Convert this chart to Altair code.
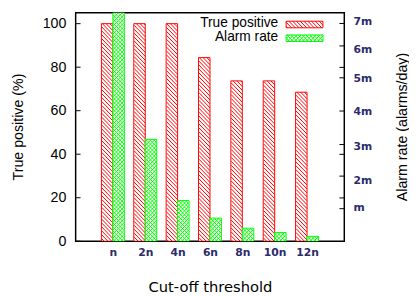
import math
import altair as alt
import pandas as pd

# ---- data ----
cats = ["n", "2n", "4n", "6n", "8n", "10n", "12n"]
true_positive = [100, 100, 100, 84.4, 73.7, 73.7, 68.5]      # %
alarm_rate = [7.6, 3.13, 1.25, 0.71, 0.40, 0.27, 0.15]       # "m" alarms/day
left_ticks = [0, 20, 40, 60, 80, 100]
right_ticks = [1.0, 1.33, 2.0, 2.67, 2.97, 4.0, 5.02, 5.34, 6.0, 6.69]
right_label_pos = [1.04, 1.86, 2.91, 3.97, 5.0, 5.9, 6.76]
legend_labels = ["True positive", "Alarm rate"]

# ---- layout / style ----
W, H = 274, 233
X_MAX = len(cats) + 1
XSTEP = W / X_MAX
YL_MAX = 105
YR_MAX = 7.018
BW = 11.7
NAVY = "#2b2b6b"
RED = "#ff0000"
GREEN = "#00ff00"
ARIAL = "Liberation Sans"
DEJA = "DejaVu Sans"
P_RED = 4.0
P_GRN = 4.0

label_expr = "[" + ",".join(f"'{c}'" for c in cats) + "][datum.value - 1]"


def x_enc(field):
    return alt.X(field, scale=alt.Scale(domain=[0, X_MAX], nice=False, zero=False),
                 axis=alt.Axis(title="Cut-off threshold", values=list(range(1, len(cats) + 1)),
                               labelExpr=label_expr, labelAngle=0, labelFont=DEJA,
                               labelFontWeight="bold", labelFontSize=11, labelColor=NAVY,
                               labelPadding=6, ticks=False, tickSize=0, domain=False,
                               grid=False, labelFlush=False,
                               titleFont=DEJA, titleFontSize=15, titleFontWeight="normal",
                               titleColor="black", titleBaseline="alphabetic", titleY=51))


def y_left(field):
    return alt.Y(field, scale=alt.Scale(domain=[0, YL_MAX], nice=False),
                 axis=alt.Axis(title="True positive (%)", values=left_ticks, ticks=False,
                               tickSize=0, domain=False, grid=False, labelFont=ARIAL,
                               labelFontSize=14.5, labelColor="black", labelPadding=10,
                               titleFont=ARIAL, titleFontSize=14.5, titleFontWeight="normal",
                               titleColor="black", titleAngle=270, titleX=-58, titleY=116,
                               titleAlign="center", titleBaseline="middle"))


def y_right(field):
    return alt.Y(field, scale=alt.Scale(domain=[0, YR_MAX], nice=False, zero=True),
                 axis=alt.Axis(orient="right", title="Alarm rate (alarms/day)",
                               values=right_label_pos,
                               labelExpr="round(datum.value) == 1 ? 'm' : round(datum.value) + 'm'",
                               ticks=False, tickSize=0, domain=False, grid=False, labelFont=DEJA,
                               labelFontWeight="bold", labelFontSize=11, labelColor=NAVY,
                               labelPadding=9,
                               titleFont=ARIAL, titleFontSize=14.5, titleFontWeight="normal",
                               titleColor="black", titleAngle=270, titleX=59, titleY=116,
                               titleAlign="center", titleBaseline="middle"))


def hatch(x0, x1, y0, y1, forward, period):
    """Diagonal hatch segments (pixel space, y down) clipped to a box."""
    segs = []
    if not forward:          # '\' : y - x = d
        k = math.ceil((y0 - x1) / period)
        while k * period <= y1 - x0:
            d = k * period
            xa, xb = max(x0, y0 - d), min(x1, y1 - d)
            if xb > xa:
                segs.append((xa, xa + d, xb, xb + d))
            k += 1
    else:                    # '/' : x + y = d
        k = math.ceil((x0 + y0) / period)
        while k * period <= x1 + y1:
            d = k * period
            xa, xb = max(x0, d - y1), min(x1, d - y0)
            if xb > xa:
                segs.append((xa, d - xa, xb, d - xb))
            k += 1
    return segs


def to_rows(segs, ymax):
    return [{"xa": xa / XSTEP, "xb": xb / XSTEP,
             "ya": (H - ya) / H * ymax, "yb": (H - yb) / H * ymax}
            for xa, ya, xb, yb in segs]


pos = list(range(1, len(cats) + 1))
df = pd.DataFrame({"cat": cats, "pos": pos, "tp": true_positive, "alarm": alarm_rate})

red_rows, grn_rows = [], []
for p, tp, ar in zip(pos, true_positive, alarm_rate):
    cx = p * XSTEP
    red_rows += to_rows(hatch(cx - BW, cx, H - tp / YL_MAX * H, H, False, P_RED), YL_MAX)
    gy0 = max(0.0, H - ar / YR_MAX * H)
    grn_rows += to_rows(hatch(cx, cx + BW, gy0, H, False, P_GRN), YR_MAX)
    grn_rows += to_rows(hatch(cx, cx + BW, gy0, H, True, P_GRN), YR_MAX)

# legend swatches (pixel boxes inside the plot), expressed through the left scale
SW_X0, SW_X1 = 217.6, 256.6
SW_RED = (8.6, 15.3)
SW_GRN = (22.6, 29.3)
leg_boxes = pd.DataFrame([
    {"xa": SW_X0 / XSTEP, "xb": SW_X1 / XSTEP,
     "ya": (H - y0) / H * YL_MAX, "yb": (H - y1) / H * YL_MAX, "s": s}
    for s, (y0, y1) in (("red", SW_RED), ("green", SW_GRN))
])
leg_red_lines = to_rows(hatch(SW_X0, SW_X1, SW_RED[0], SW_RED[1], False, P_RED), YL_MAX)
leg_grn_lines = (to_rows(hatch(SW_X0, SW_X1, SW_GRN[0], SW_GRN[1], False, P_GRN), YL_MAX)
                 + to_rows(hatch(SW_X0, SW_X1, SW_GRN[0], SW_GRN[1], True, P_GRN), YL_MAX))

# ---- True positive (left axis) ----
red_group = alt.layer(
    alt.Chart(df).mark_bar(orient="vertical", fill="white", width=BW, xOffset=-BW / 2, clip=True)
    .encode(x=x_enc("pos:Q"), y=y_left("tp:Q")),
    alt.Chart(pd.DataFrame(red_rows)).mark_rule(color=RED, strokeWidth=1, clip=True)
    .encode(x=x_enc("xa:Q"), x2="xb:Q", y=y_left("ya:Q"), y2="yb:Q"),
    alt.Chart(df).mark_bar(orient="vertical", fill="transparent", stroke=RED, strokeWidth=1,
                           width=BW, xOffset=-BW / 2, clip=True)
    .encode(x=x_enc("pos:Q"), y=y_left("tp:Q")),
    alt.Chart(pd.DataFrame({"tp": left_ticks}))
    .mark_rule(color="black", strokeWidth=1)
    .encode(y=y_left("tp:Q"), x=alt.value(0), x2=alt.value(5)),
    # legend swatches
    alt.Chart(leg_boxes).mark_rect(fill="white")
    .encode(x=x_enc("xa:Q"), x2="xb:Q", y=y_left("ya:Q"), y2="yb:Q"),
    alt.Chart(pd.DataFrame(leg_red_lines)).mark_rule(color=RED, strokeWidth=1)
    .encode(x=x_enc("xa:Q"), x2="xb:Q", y=y_left("ya:Q"), y2="yb:Q"),
    alt.Chart(pd.DataFrame(leg_grn_lines)).mark_rule(color=GREEN, strokeWidth=1)
    .encode(x=x_enc("xa:Q"), x2="xb:Q", y=y_left("ya:Q"), y2="yb:Q"),
    alt.Chart(leg_boxes).mark_rect(fill="transparent", strokeWidth=1)
    .encode(x=x_enc("xa:Q"), x2="xb:Q", y=y_left("ya:Q"), y2="yb:Q",
            stroke=alt.Stroke("s:N", scale=alt.Scale(domain=["red", "green"], range=[RED, GREEN]),
                              legend=None)),
)

# ---- Alarm rate (right axis) ----
green_group = alt.layer(
    alt.Chart(df).mark_bar(orient="vertical", fill="white", width=BW, xOffset=BW / 2, clip=True)
    .encode(x=x_enc("pos:Q"), y=y_right("alarm:Q")),
    alt.Chart(pd.DataFrame(grn_rows)).mark_rule(color=GREEN, strokeWidth=1, clip=True)
    .encode(x=x_enc("xa:Q"), x2="xb:Q", y=y_right("ya:Q"), y2="yb:Q"),
    alt.Chart(df).mark_bar(orient="vertical", fill="transparent", stroke=GREEN, strokeWidth=1,
                           width=BW, xOffset=BW / 2, clip=True)
    .encode(x=x_enc("pos:Q"), y=y_right("alarm:Q")),
    alt.Chart(pd.DataFrame({"alarm": right_ticks}))
    .mark_rule(color="black", strokeWidth=1)
    .encode(y=y_right("alarm:Q"), x=alt.value(W - 5), x2=alt.value(W)),
)

one = alt.Chart(pd.DataFrame({"k": [0]}))
legend_text = [
    one.mark_text(align="right", baseline="middle", font=ARIAL, fontSize=14, color="black")
    .encode(x=alt.value(206.6), y=alt.value(10.5), text=alt.value(legend_labels[0])),
    one.mark_text(align="right", baseline="middle", font=ARIAL, fontSize=14, color="black")
    .encode(x=alt.value(206.6), y=alt.value(25), text=alt.value(legend_labels[1])),
]

chart = (
    alt.layer(red_group, green_group, *legend_text)
    .resolve_scale(y="independent")
    .properties(width=W, height=H,
                autosize=alt.AutoSizeParams(type="none"),
                padding={"left": 69, "top": 2, "right": 66, "bottom": 54},
                background="white")
    .configure_view(stroke="black", strokeWidth=1.5)
)

chart.save("out.html", embed_options={"renderer": "svg", "actions": False})
